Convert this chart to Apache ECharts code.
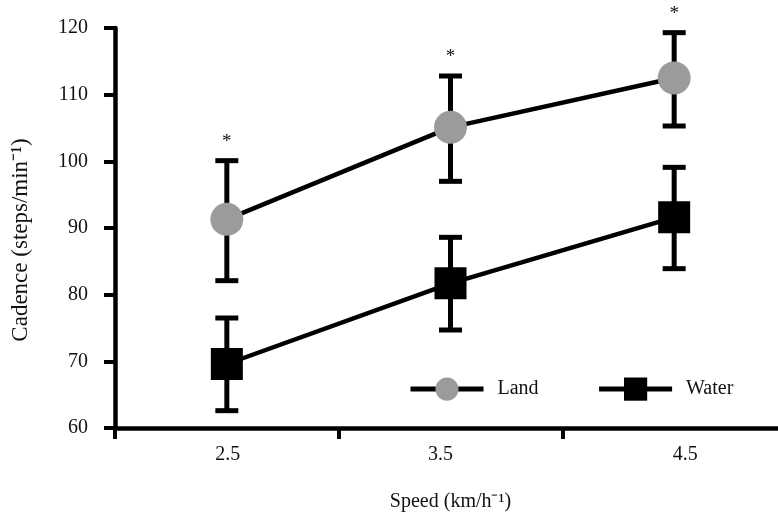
<!DOCTYPE html>
<html>
<head>
<meta charset="utf-8">
<script src="https://cdn.jsdelivr.net/npm/echarts@6/dist/echarts.min.js"></script>
<style>html,body{margin:0;padding:0;background:#fff}#wrap{width:778px;height:517px;overflow:hidden;position:relative}#c{width:786px;height:517px;position:absolute;left:0;top:0}</style>
</head>
<body>
<div id="wrap"><div id="c"></div></div>
<script>
var speeds = ['2.5', '3.5', '4.5'];
var landMean = [91.3, 105.1, 112.5];
var landLow  = [82.1, 97.0, 105.3];
var landHigh = [100.1, 112.8, 119.3];
var waterMean = [69.6, 81.7, 91.6];
var waterLow  = [62.6, 74.7, 83.9];
var waterHigh = [76.5, 88.6, 99.1];
var significance = ['*', '*', '*'];
var yTicks = [60, 70, 80, 90, 100, 110, 120];

var FONT = '"Liberation Serif", "Times New Roman", serif';

function errData(low, high, sig) {
  return speeds.map(function (s, i) { return [i, low[i], high[i], sig ? sig[i] : '']; });
}

function renderErr(params, api) {
  var x = api.value(0);
  var lo = api.coord([x, api.value(1)]);
  var hi = api.coord([x, api.value(2)]);
  var half = 11.5;
  var st = { stroke: '#000', lineWidth: 5 };
  var children = [
    { type: 'line', shape: { x1: lo[0], y1: lo[1], x2: hi[0], y2: hi[1] }, style: st },
    { type: 'line', shape: { x1: lo[0] - half, y1: lo[1], x2: lo[0] + half, y2: lo[1] }, style: st },
    { type: 'line', shape: { x1: hi[0] - half, y1: hi[1], x2: hi[0] + half, y2: hi[1] }, style: st }
  ];
  var sig = api.value(3);
  if (sig) {
    children.push({ type: 'text', style: { text: sig, x: hi[0], y: hi[1] - 19, align: 'center', verticalAlign: 'middle', font: '19px ' + FONT, fill: '#111' } });
  }
  return { type: 'group', children: children };
}

var labelShift = [[0, 0, 0, 2], [0, 20, 0, 0], [0, 0, 0, 22]];
var rich = {};
labelShift.forEach(function (p, i) { rich['l' + i] = { padding: p, fontSize: 20, fontFamily: FONT, color: '#111' }; });

var chart = echarts.init(document.getElementById('c'));
chart.setOption({
  animation: false,
  backgroundColor: '#fff',
  grid: { left: 115, right: 0, top: 28, bottom: 86 },
  legend: {
    left: 408, top: 377.5, padding: 0,
    itemWidth: 73, itemHeight: 29, itemGap: 58,
    lineStyle: { width: 5 },
    textStyle: { fontSize: 20, fontFamily: FONT, color: '#111', padding: [0, 0, 0, 9] },
    data: ['Land', 'Water']
  },
  xAxis: {
    type: 'category',
    data: speeds,
    boundaryGap: true,
    name: 'Speed (km/h⁻¹)',
    nameLocation: 'middle',
    nameGap: 64,
    nameTextStyle: { fontSize: 20, fontFamily: FONT, color: '#111' },
    axisLine: { lineStyle: { color: '#000', width: 4.5 } },
    axisTick: { show: true, length: 11, lineStyle: { color: '#000', width: 4 } },
    axisLabel: {
      margin: 17,
      formatter: function (v, i) { return '{l' + i + '|' + v + '}'; },
      rich: rich
    },
    splitLine: { show: false }
  },
  yAxis: {
    type: 'value',
    min: yTicks[0], max: yTicks[yTicks.length - 1], interval: 10,
    name: 'Cadence (steps/min⁻¹)',
    nameLocation: 'middle',
    nameGap: 83,
    nameTextStyle: { fontSize: 23, fontFamily: FONT, color: '#111', padding: [0, 24, 0, 0] },
    axisLine: { show: true, lineStyle: { color: '#000', width: 4.5 } },
    axisTick: { show: true, length: 11, lineStyle: { color: '#000', width: 4 } },
    axisLabel: { margin: 27, fontSize: 20, fontFamily: FONT, color: '#111' },
    splitLine: { show: false }
  },
  series: [
    { name: 'LandErr', type: 'custom', renderItem: renderErr, data: errData(landLow, landHigh, significance), z: 1, silent: true },
    { name: 'WaterErr', type: 'custom', renderItem: renderErr, data: errData(waterLow, waterHigh, null), z: 1, silent: true },
    {
      name: 'Land', type: 'line', data: landMean, symbol: 'circle', symbolSize: 33, z: 3,
      itemStyle: { color: '#9b9b9b' }, lineStyle: { color: '#000', width: 4.5 }
    },
    {
      name: 'Water', type: 'line', data: waterMean, symbol: 'rect', symbolSize: 32, z: 3,
      itemStyle: { color: '#000' }, lineStyle: { color: '#000', width: 4.5 }
    }
  ]
});
</script>
</body>
</html>
